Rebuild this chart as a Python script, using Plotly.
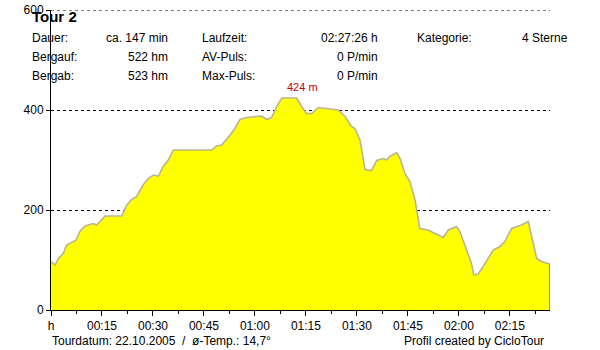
import plotly.graph_objects as go

# Elevation profile: time in minutes, elevation in metres
time_min = [0, 1.2, 2.2, 3.6, 4.6, 6.1, 7.4, 8.5, 10.0, 12.4, 13.4, 14.4, 15.9,
            20.8, 22.3, 23.7, 25.2, 27.2, 28.6, 30.1, 31.6, 33.0, 34.5, 36.0,
            47.3, 48.7, 50.2, 52.7, 54.1, 55.6, 57.6, 62.0, 63.4, 64.9, 66.4,
            67.9, 72.3, 73.7, 75.2, 76.7, 78.6, 84.5, 86.5, 88.4, 89.4, 90.9,
            92.4, 94.3, 95.8, 97.7, 98.7, 99.7, 101.7, 102.7, 104.1, 105.6,
            107.1, 108.5, 111.0, 112.4, 115.4, 116.9, 119.3, 120.3, 122.3,
            123.7, 124.4, 125.7, 127.7, 130.1, 132.1, 133.5, 135.5, 138.4,
            140.4, 141.4, 142.9, 144.3, 146.8]
elev_m = [97, 90, 103, 113, 130, 135, 140, 157, 168, 173, 170, 177, 188,
          188, 210, 221, 227, 251, 263, 270, 268, 287, 300, 320,
          320, 328, 330, 350, 363, 381, 385, 388, 381, 385, 407,
          424, 424, 407, 393, 393, 405, 400, 387, 367, 363, 340,
          281, 279, 299, 303, 300, 307, 315, 303, 273, 257,
          220, 163, 160, 155, 145, 160, 167, 157, 120,
          93, 70, 72, 93, 120, 127, 137, 163, 170,
          177, 147, 103, 97, 92]

x_tickvals = [0, 15, 30, 45, 60, 75, 90, 105, 120, 135]
x_ticktext = ["h", "00:15", "00:30", "00:45", "01:00", "01:15", "01:30",
              "01:45", "02:00", "02:15"]
y_tickvals = [0, 200, 400, 600]

title_text = "Tour 2"
info_rows = [
    ("Dauer:", "ca. 147 min", "Laufzeit:", "02:27:26 h", "Kategorie:", "4 Sterne"),
    ("Bergauf:", "522 hm", "AV-Puls:", "0 P/min", "", ""),
    ("Bergab:", "523 hm", "Max-Puls:", "0 P/min", "", ""),
]
footer_left = "Tourdatum: 22.10.2005  /  ø-Temp.: 14,7°"
footer_right = "Profil created by CicloTour"

FONT = "Liberation Sans, Arial, sans-serif"
FS = 12
W, H = 600, 350
ML, MR, MT, MB = 51, 50, 10, 40
PW, PH = W - ML - MR, H - MT - MB


def px(x):
    return (x - ML) / PW


def py(y):
    return (H - MB - y) / PH


fig = go.Figure()
fig.add_trace(go.Scatter(
    x=time_min, y=elev_m, mode="lines", fill="tozeroy",
    fillcolor="#ffff00", line=dict(color="#bab58e", width=1.6),
    hoverinfo="skip", showlegend=False))
# closing edge at the end of the profile
fig.add_trace(go.Scatter(
    x=[time_min[-1], time_min[-1]], y=[0, elev_m[-1]], mode="lines",
    line=dict(color="#3d7a3d", width=1.2), hoverinfo="skip", showlegend=False))

pk = max(range(len(elev_m)), key=lambda i: elev_m[i])
anns = [dict(x=time_min[pk], y=elev_m[pk], xref="x", yref="y",
             text=f"{elev_m[pk]} m", showarrow=False, xanchor="left",
             yanchor="bottom", xshift=3, yshift=3,
             font=dict(family=FONT, size=11, color="#c00000"))]

anns.append(dict(x=px(30), y=py(17), xref="paper", yref="paper", text=f"<b>{title_text}</b>",
                 showarrow=False, xanchor="left", yanchor="middle",
                 font=dict(family=FONT, size=15, color="black")))

col_pos = [(30, "left"), (170, "right"), (200, "left"), (380, "right"), (415, "left"), (570, "right")]
row_y = [38, 57, 76]
for r, row in enumerate(info_rows):
    for c, txt in enumerate(row):
        if not txt:
            continue
        xp, anc = col_pos[c]
        anns.append(dict(x=px(xp), y=py(row_y[r]), xref="paper", yref="paper", text=txt,
                         showarrow=False, xanchor=anc, yanchor="middle",
                         font=dict(family=FONT, size=FS, color="black")))

anns.append(dict(x=px(50), y=py(341), xref="paper", yref="paper", text=footer_left,
                 showarrow=False, xanchor="left", yanchor="middle",
                 font=dict(family=FONT, size=FS, color="black")))
anns.append(dict(x=px(474), y=py(341), xref="paper", yref="paper", text=footer_right,
                 showarrow=False, xanchor="center", yanchor="middle",
                 font=dict(family=FONT, size=FS, color="black")))

# dashed grid line at the top of the value range (600 m)
shapes = [dict(type="line", xref="paper", yref="y", x0=0, x1=1,
               y0=y_tickvals[-1], y1=y_tickvals[-1],
               line=dict(color="black", width=1, dash="3px,3px"), layer="above")]

fig.update_layout(
    width=W, height=H, margin=dict(l=ML, r=MR, t=MT, b=MB, autoexpand=False),
    paper_bgcolor="white", plot_bgcolor="white",
    font=dict(family=FONT, size=FS, color="black"),
    annotations=anns, shapes=shapes, showlegend=False,
    xaxis=dict(range=[0, time_min[-1]], tickvals=x_tickvals, ticktext=x_ticktext,
               showline=True, linecolor="black", linewidth=1,
               ticks="outside", ticklen=5, tickcolor="black",
               showgrid=False, zeroline=False, automargin=False,
               minor=dict(dtick=7.5, tick0=0, ticks="outside", ticklen=3, tickcolor="black"),
               tickfont=dict(family=FONT, size=FS, color="black")),
    yaxis=dict(range=[0, 600], tickvals=y_tickvals,
               showline=True, linecolor="black", linewidth=1,
               ticks="outside", ticklen=4, tickcolor="black",
               showgrid=True, gridcolor="black", gridwidth=1, griddash="3px,3px",
               zeroline=False, automargin=False,
               tickfont=dict(family=FONT, size=FS, color="black")),
)

fig.write_html("out.html")
